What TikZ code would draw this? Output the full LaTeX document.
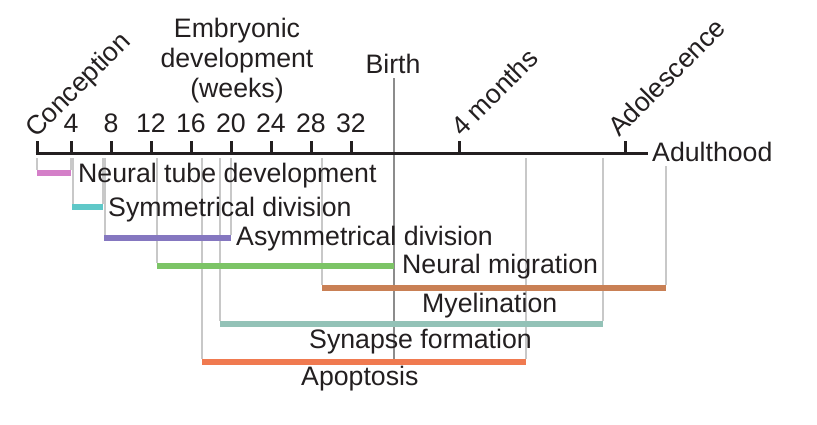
\documentclass[tikz,border=0pt]{standalone}
\usepackage{fontspec}
\setmainfont{Liberation Sans}
\definecolor{ink}{RGB}{35,31,32}
\definecolor{guideC}{RGB}{200,200,200}
\definecolor{birthC}{RGB}{140,140,140}
\definecolor{tubeC}{RGB}{212,127,200}
\definecolor{symC}{RGB}{95,200,200}
\definecolor{asymC}{RGB}{133,119,192}
\definecolor{migrC}{RGB}{124,196,102}
\definecolor{myelC}{RGB}{201,128,85}
\definecolor{synC}{RGB}{147,194,183}
\definecolor{apopC}{RGB}{240,122,80}

\begin{document}
\begin{tikzpicture}[
  x=1pt, y=-1pt,
  font=\fontsize{26.7}{30}\selectfont, text=ink,
  lbl/.style={inner sep=0pt, anchor=base west},
  num/.style={inner sep=0pt, anchor=base},
  slant/.style={inner sep=0pt, anchor=base west, rotate=45},
  axis/.style={line width=3pt, color=ink},
  guide/.style={line width=1.5pt, color=guideC},
  bar/.style={line width=6pt},
]
\useasboundingbox (0,0) rectangle (817,424);

% ---------- Guide lines ----------
\foreach \x/\y in {37/170, 71/170, 73/204, 103/204, 105/235, 157/263,
    202/359, 220/321, 231/235, 322/285, 526/359, 603/321}{
  \draw[guide] (\x,158) -- (\x,\y);
}
\draw[guide] (666,166) -- (666,285);
\draw[line width=1.5pt, color=birthC] (394,78) -- (394,359);

% ---------- Time axis ----------
\draw[axis] (35.5,153) -- (648,153);
\foreach \x/\t in {71/4, 111/8, 151/12, 191/16, 231/20, 271/24, 311/28, 351/32}{
  \draw[axis] (\x,153) -- (\x,141);
  \node[num] (w\t) at (\x,132) {\t};
}
\foreach \x in {37, 459, 625}{
  \draw[axis] (\x,153) -- (\x,141);
}

\node[slant] (conc) at (36,139) {Conception};
\node[slant] (fourm) at (462,138) {4 months};
\node[slant] (adol) at (619,138) {Adolescence};
\node[lbl] (adult) at (652,161) {Adulthood};
\node[num] (birth) at (393,73) {Birth};
\node[num, align=center] (embryo) at (237,97) {Embryonic\\development\\(weeks)};

% ---------- Processes ----------
\draw[bar, tubeC] (37,173) -- (71,173);
\draw[bar, symC] (72,207) -- (103,207);
\draw[bar, asymC] (104,238) -- (231,238);
\draw[bar, migrC] (157,266) -- (394,266);
\draw[bar, myelC] (322,288) -- (666,288);
\draw[bar, synC] (220,324) -- (603,324);
\draw[bar, apopC] (202,362) -- (526,362);

\node[lbl] (tube) at (78,182) {Neural tube development};
\node[lbl] (sym) at (108,216) {Symmetrical division};
\node[lbl] (asym) at (236,245) {Asymmetrical division};
\node[lbl] (migr) at (402,273) {Neural migration};
\node[lbl] (myel) at (422,312) {Myelination};
\node[lbl] (syn) at (309,348) {Synapse formation};
\node[lbl] (apop) at (301,385) {Apoptosis};

\end{tikzpicture}
\end{document}
